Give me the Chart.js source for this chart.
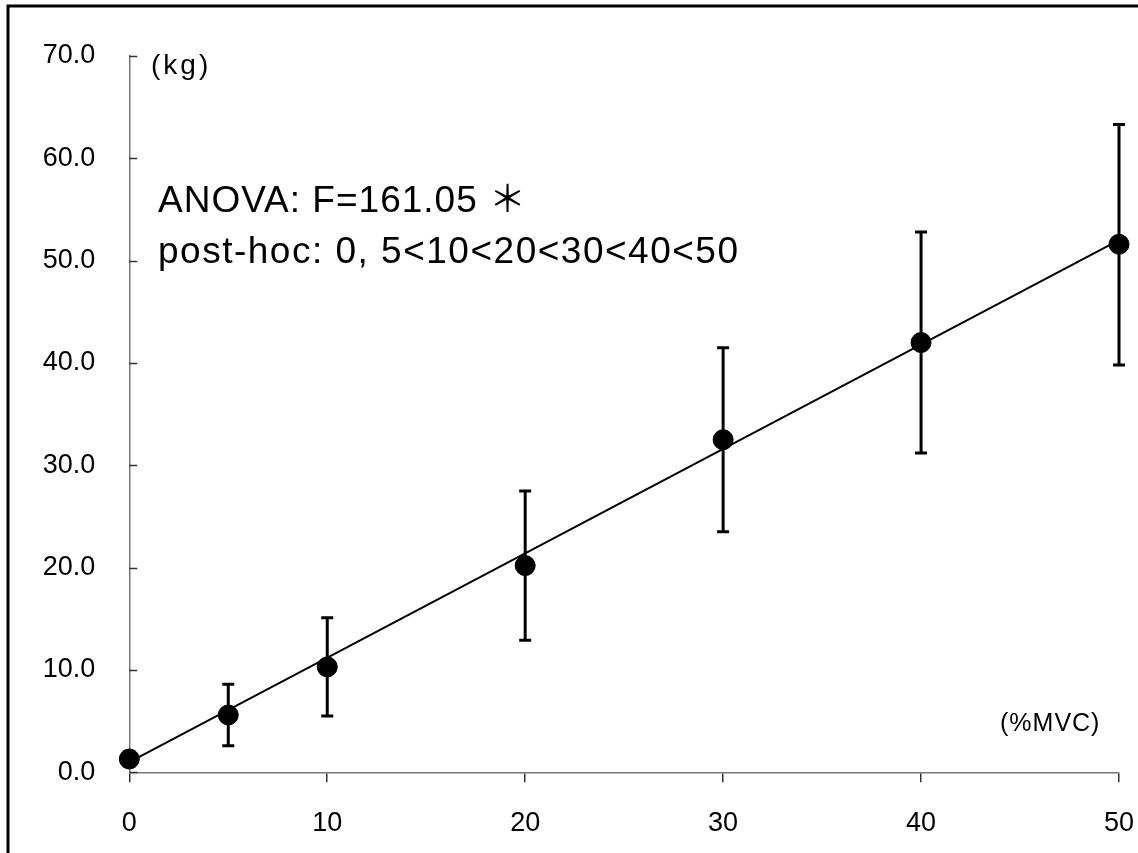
<!DOCTYPE html>
<html>
<head>
<meta charset="utf-8">
<script src="https://cdn.jsdelivr.net/npm/chart.js@4/dist/chart.umd.min.js"></script>
<style>
  html, body { margin: 0; padding: 0; background: #fff; }
  #wrap { position: absolute; left: 0; top: 0; width: 1138px; height: 853px; }
</style>
</head>
<body>
<div id="wrap"><canvas id="c" width="1138" height="853"></canvas></div>
<script>
// ---- data ----
const xValues     = [0, 5, 10, 20, 30, 40, 50];          // %MVC
const meanValues  = [1.3, 5.6, 10.3, 20.2, 32.5, 42.0, 51.6]; // kg
const upperValues = [2.0, 8.6, 15.1, 27.5, 41.5, 52.8, 63.3];
const lowerValues = [0.6, 2.6, 5.5, 12.9, 23.5, 31.2, 39.8];
const trendX      = [0, 50];
const trendY      = [1.0, 52.0];
const yTickMin = 0, yTickMax = 70, yTickStep = 10;
const xTickMin = 0, xTickMax = 50, xTickStep = 10;
const yUnitLabel = '(kg)';
const xUnitLabel = '(%MVC)';
const noteLines = ['ANOVA: F=161.05 ＊', 'post-hoc: 0, 5<10<20<30<40<50'];

const FONT = '"Liberation Sans", Arial, "Noto Sans CJK JP", sans-serif';

const meanPoints  = xValues.map((x, i) => ({ x: x, y: meanValues[i] }));
const trendPoints = trendX.map((x, i) => ({ x: x, y: trendY[i] }));

const framePlugin = {
  id: 'frame',
  beforeDraw(chart) {
    const ctx = chart.ctx;
    ctx.save();
    ctx.fillStyle = '#fff';
    ctx.fillRect(0, 0, chart.width, chart.height);
    ctx.strokeStyle = '#000';
    ctx.lineWidth = 3;
    ctx.beginPath();
    ctx.moveTo(8, chart.height);
    ctx.lineTo(8, 6);
    ctx.lineTo(chart.width, 6);
    ctx.stroke();
    ctx.restore();
  }
};

const decorPlugin = {
  id: 'decor',
  afterDraw(chart) {
    const ctx = chart.ctx;
    const xs = chart.scales.x, ys = chart.scales.y;
    ctx.save();
    // inward y tick marks
    ctx.strokeStyle = '#333';
    ctx.lineWidth = 1.5;
    ys.ticks.forEach(t => {
      const py = Math.round(ys.getPixelForValue(t.value)) + 0.5;
      ctx.beginPath();
      ctx.moveTo(xs.left, py);
      ctx.lineTo(xs.left + 8, py);
      ctx.stroke();
    });
    // error bars
    ctx.strokeStyle = '#000';
    ctx.lineWidth = 3;
    xValues.forEach((x, i) => {
      const px = xs.getPixelForValue(x);
      const pu = ys.getPixelForValue(upperValues[i]);
      const pl = ys.getPixelForValue(lowerValues[i]);
      ctx.beginPath();
      ctx.moveTo(px, pu); ctx.lineTo(px, pl);
      ctx.moveTo(px - 6, pu); ctx.lineTo(px + 6, pu);
      ctx.moveTo(px - 6, pl); ctx.lineTo(px + 6, pl);
      ctx.stroke();
    });
    // texts
    ctx.fillStyle = '#000';
    ctx.textAlign = 'left';
    ctx.textBaseline = 'alphabetic';
    ctx.font = '28px ' + FONT;
    ctx.letterSpacing = '3px';
    ctx.fillText(yUnitLabel, 151, 74);
    ctx.font = '25px ' + FONT;
    ctx.letterSpacing = '1px';
    ctx.fillText(xUnitLabel, 1000, 731);
    ctx.font = '37px ' + FONT;
    ctx.letterSpacing = '1px';
    ctx.fillText(noteLines[0], 158, 212);
    ctx.letterSpacing = '1.5px';
    ctx.fillText(noteLines[1], 158, 263);
    ctx.restore();
  }
};

new Chart(document.getElementById('c'), {
  type: 'scatter',
  data: {
    datasets: [
      {
        data: trendPoints,
        showLine: true,
        borderColor: '#000',
        borderWidth: 2,
        pointRadius: 0,
        clip: false,
        order: 2
      },
      {
        data: meanPoints,
        showLine: false,
        backgroundColor: '#000',
        borderColor: '#000',
        pointRadius: 10,
        pointHoverRadius: 10,
        clip: false,
        order: 1
      }
    ]
  },
  options: {
    responsive: false,
    devicePixelRatio: 1,
    animation: false,
    events: [],
    layout: { padding: { left: 0, right: 19, top: 56, bottom: 0 } },
    plugins: { legend: { display: false }, tooltip: { enabled: false } },
    scales: {
      x: {
        type: 'linear',
        min: xTickMin, max: xTickMax,
        afterFit(scale) { scale.height = 80.7; scale.paddingRight = 0; scale.paddingLeft = 0; },
        ticks: {
          stepSize: xTickStep,
          color: '#000',
          font: { family: FONT, size: 27 },
          padding: 25,
          maxRotation: 0
        },
        grid: { drawOnChartArea: false, drawTicks: true, tickLength: 10, color: '#333', lineWidth: 1.5 },
        border: { display: true, color: '#777', width: 1.5 }
      },
      y: {
        type: 'linear',
        min: yTickMin, max: yTickMax,
        afterFit(scale) { scale.width = 129.3; scale.paddingTop = 0; scale.paddingBottom = 0; },
        ticks: {
          stepSize: yTickStep,
          color: '#000',
          font: { family: FONT, size: 27 },
          padding: 34,
          callback: v => Number(v).toFixed(1)
        },
        grid: { display: false, drawTicks: false },
        border: { display: true, color: '#777', width: 1.5 }
      }
    }
  },
  plugins: [framePlugin, decorPlugin]
});
</script>
</body>
</html>
